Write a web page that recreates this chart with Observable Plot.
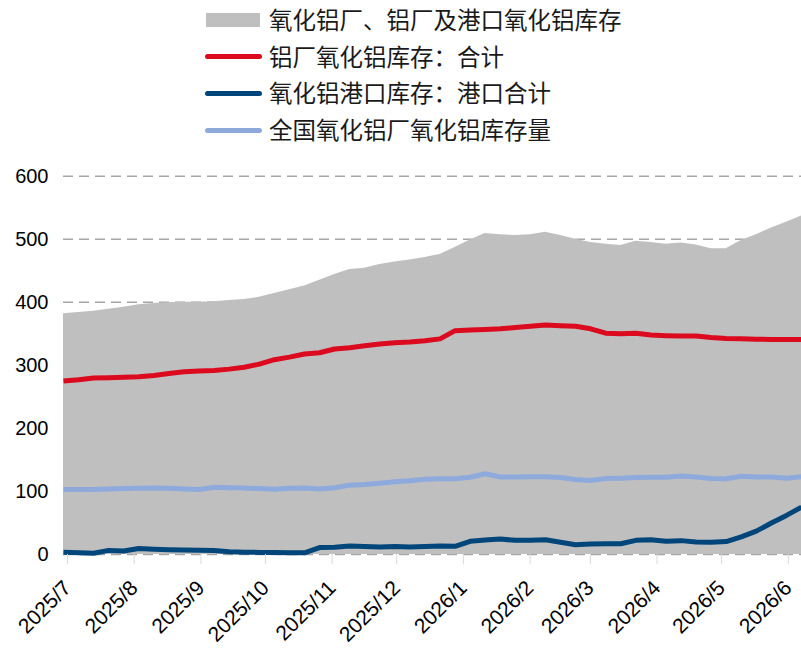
<!DOCTYPE html>
<html><head><meta charset="utf-8">
<script src="https://cdn.jsdelivr.net/npm/d3@7"></script>
<script src="https://cdn.jsdelivr.net/npm/@observablehq/plot@0.6"></script>
<style>
body{margin:0;background:#fff;}
#wrap{width:801px;height:649px;position:relative;overflow:hidden;}
#legend{position:relative;width:801px;height:150px;font-family:"Noto Sans CJK SC",sans-serif;font-size:23.5px;color:#1a1a1a;}
.item{position:absolute;left:0;height:0;}
.sw{position:absolute;left:205px;}
.lb{position:absolute;left:269px;white-space:nowrap;line-height:1;transform:translateY(-50%);top:0;}
#chart svg{display:block;}
</style></head>
<body><div id="wrap"><div id="legend"></div><div id="chart"></div></div>
<script>
const dates = ["2025-07-01","2025-07-08","2025-07-15","2025-07-22","2025-07-29","2025-08-05","2025-08-12","2025-08-19","2025-08-26","2025-09-02","2025-09-09","2025-09-16","2025-09-23","2025-09-30","2025-10-07","2025-10-14","2025-10-21","2025-10-28","2025-11-04","2025-11-11","2025-11-18","2025-11-25","2025-12-02","2025-12-09","2025-12-16","2025-12-23","2025-12-30","2026-01-06","2026-01-13","2026-01-20","2026-01-27","2026-02-03","2026-02-10","2026-02-17","2026-02-24","2026-03-03","2026-03-10","2026-03-17","2026-03-24","2026-03-31","2026-04-07","2026-04-14","2026-04-21","2026-04-28","2026-05-05","2026-05-12","2026-05-19","2026-05-26","2026-06-02","2026-06-09"];
const totalInv = [382,384,386,389,392,396,398,399.5,400,400,401,403,404.5,408,414,420,426,435,444,452,454,460,464,467,471,476,487,499,509,507,506,507,511,506,500,495,492,490,497,495,492,494,491,485,485,498,507,518,527,537];
const smelterInv = [275,277,280,280.5,281,282,284,287,290,291,292,294,297,302,309,313,318,320,326,328,331,334,336,337,339,342,355,356,357,358,360,362,364,363,362,358,351,350,351,348,347,346.5,346.5,344,342.5,342,341.5,341,341,341];
const portInv = [3.7,2.8,2.1,6.5,5.5,9.5,8.5,7.5,7,6.8,6.3,4.5,3.7,3.3,3,2.7,2.6,11,11.6,13.5,12.5,12,12.5,12,12.5,13.5,13,21,23,24.5,22.5,22.5,23.5,19.5,15.5,16.5,17,17,22.5,23.5,21,22,20,19.5,20.5,28,37,50,62,75];
const refineryInv = [103,103,103,104,104.5,105,105.5,105,104,103,106.5,106,105.5,104.5,103.5,105,105.5,104,106,110,111,113,115.5,117,119.5,120,120,122.5,128,123,123,123.5,123.5,122,119,117.5,120.5,121,122,122.5,122.5,124.5,123,120.5,120,124,123,123,121,123.5];
const seriesNames = ["氧化铝厂、铝厂及港口氧化铝库存","铝厂氧化铝库存：合计","氧化铝港口库存：港口合计","全国氧化铝厂氧化铝库存量"];
const seriesColors = ["#bfbfbf","#dc0a1e","#00467a","#8eaadc"];
const yTicks = [0,100,200,300,400,500,600];
const xTickLabels = ["2025/7","2025/8","2025/9","2025/10","2025/11","2025/12","2026/1","2026/2","2026/3","2026/4","2026/5","2026/6"];

const parse = d3.utcParse("%Y-%m-%d");
const data = dates.map((d,i)=>({date:parse(d), total:totalInv[i], smelter:smelterInv[i], port:portInv[i], refinery:refineryInv[i]}));
const xTicks = xTickLabels.map(s=>{const [y,m]=s.split("/");return new Date(Date.UTC(+y,+m-1,1));});
const labelOf = new Map(xTicks.map((t,i)=>[+t, xTickLabels[i]]));

// legend
const legend = document.getElementById("legend");
const rowsY = [20,56.7,93.3,130];
seriesNames.forEach((name,i)=>{
  const it = document.createElement("div");
  it.className="item"; it.style.top = rowsY[i]+"px";
  const sw = document.createElement("div"); sw.className="sw";
  if(i===0){ sw.style.cssText=`left:206px;top:-7.3px;width:54px;height:14.6px;background:${seriesColors[0]}`; }
  else { sw.style.cssText=`left:205px;top:-2.5px;width:57px;height:5px;border-radius:2.5px;background:${seriesColors[i]}`; }
  const lb = document.createElement("div"); lb.className="lb"; lb.textContent=name;
  it.appendChild(sw); it.appendChild(lb); legend.appendChild(it);
});

const lineOpts = {x:"date", strokeWidth:5, strokeLinejoin:"round", strokeLinecap:"butt"};
const chart = Plot.plot({
  width: 801, height: 499,
  marginLeft: 63, marginRight: 0, marginTop: 25.7, marginBottom: 95,
  style: {fontFamily:"'Liberation Sans', Arial, sans-serif", fontSize:"20px", color:"#000", background:"#fff"},
  x: {type:"utc", domain:[parse("2025-07-01"), parse("2026-06-09")]},
  y: {domain:[0,600]},
  marks: [
    Plot.gridY(yTicks, {stroke:"#a6a6a6", strokeOpacity:1, strokeWidth:1.4, strokeDasharray:"10,6"}),
    Plot.areaY(data, {x:"date", y:"total", fill:seriesColors[0]}),
    Plot.lineY(data, {...lineOpts, y:"smelter", stroke:seriesColors[1]}),
    Plot.lineY(data, {...lineOpts, y:"refinery", stroke:seriesColors[3]}),
    Plot.lineY(data, {...lineOpts, y:"port", stroke:seriesColors[2]}),
    Plot.axisY({ticks:yTicks, tickSize:0, tickPadding:15, fontSize:20, fill:"#000", label:null}),
    Plot.axisX({ticks:xTicks, tickFormat:d=>labelOf.get(+d), tickRotate:-45, tickSize:10, stroke:"#d9d9d9", strokeOpacity:1, tickPadding:20, dx:4, fontSize:21, fill:"#000", label:null})
  ]
});
document.getElementById("chart").appendChild(chart);
</script></body></html>
